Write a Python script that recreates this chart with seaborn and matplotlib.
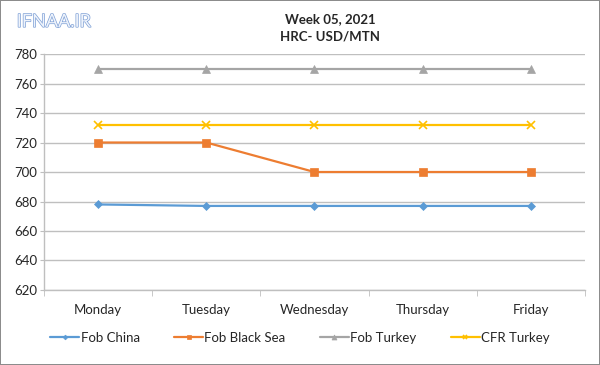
import pandas as pd
import matplotlib.pyplot as plt
import matplotlib.patheffects as pe
import seaborn as sns

# Chart data
days = ['Monday', 'Tuesday', 'Wednesday', 'Thursday', 'Friday']
fob_china = [678, 677, 677, 677, 677]
fob_black_sea = [720, 720, 700, 700, 700]
fob_turkey = [770, 770, 770, 770, 770]
cfr_turkey = [732, 732, 732, 732, 732]
y_ticks = [620, 640, 660, 680, 700, 720, 740, 760, 780]

series = [
    ('Fob China', fob_china, '#5B9BD5', 'D', 4),
    ('Fob Black Sea', fob_black_sea, '#ED7D31', 's', 6),
    ('Fob Turkey', fob_turkey, '#A5A5A5', '^', 6),
    ('CFR Turkey', cfr_turkey, '#FFC000', 'x', 6),
]

sns.set_style('white')
plt.rcParams['font.family'] = ['Lato', 'DejaVu Sans']

fig = plt.figure(figsize=(6, 3.65), dpi=100)
fig.patch.set_edgecolor('#8c8c8c')
fig.patch.set_linewidth(1.2)
ax = fig.add_axes([0.0733, 0.2055, 0.9017, 0.6465])

for name, vals, color, marker, ms in series:
    df = pd.DataFrame({'day': days, 'value': vals})
    sns.lineplot(data=df, x='day', y='value', ax=ax, color=color, marker=marker,
                 markersize=ms, markeredgecolor=color, markeredgewidth=1.2 if marker == 'x' else 0.5,
                 linewidth=1.6, label=name, sort=False)

ax.set_xlim(-0.5, 4.5)
ax.set_ylim(620, 780)
ax.set_yticks(y_ticks)
ax.yaxis.grid(True, color='#bfbfbf', linewidth=1)
ax.set_axisbelow(True)
ax.set_xlabel('')
ax.set_ylabel('')
ax.tick_params(axis='y', labelsize=9.5, length=3, color='#bfbfbf', left=True, pad=2)
ax.set_xticks(range(len(days)))
ax.set_xticklabels(days)
ax.tick_params(axis='x', labelsize=9.5, length=0, pad=10)
ax.set_xticks([i - 0.5 for i in range(6)], minor=True)
ax.tick_params(axis='x', which='minor', length=4, color='#bfbfbf', bottom=True)
for s in ['top', 'right']:
    ax.spines[s].set_visible(False)
for s in ['left', 'bottom']:
    ax.spines[s].set_color('#bfbfbf')
    ax.spines[s].set_linewidth(1)

ax.get_legend().remove()
handles, labels = ax.get_legend_handles_labels()
fig.legend(handles, labels, loc='center', bbox_to_anchor=(0.5, 0.074), ncol=4,
           frameon=False, fontsize=9.5, handlelength=2.2, handletextpad=0.1,
           columnspacing=2.6, markerscale=0.6)

fig.text(0.55, 0.948, 'Week 05, 2021', ha='center', va='center', fontsize=9.5, fontweight='bold')
fig.text(0.55, 0.9, 'HRC- USD/MTN', ha='center', va='center', fontsize=9.5, fontweight='bold')
fig.text(0.028, 0.94, 'IFNAA.IR', ha='left', va='center', fontsize=13, color='#eef3fb',
         path_effects=[pe.withStroke(linewidth=1.0, foreground='#7ea0d6')])

fig.savefig('out.png', dpi=100)
